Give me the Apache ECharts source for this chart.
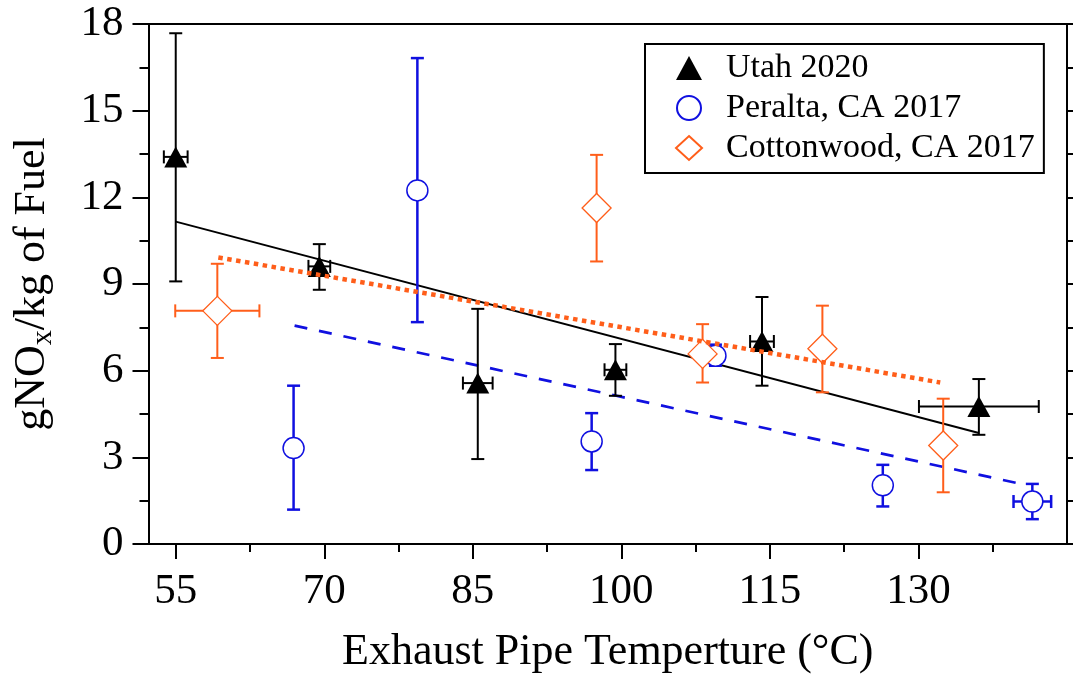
<!DOCTYPE html>
<html><head><meta charset="utf-8">
<script src="https://cdn.jsdelivr.net/npm/echarts@6/dist/echarts.min.js"></script>
<style>html,body{margin:0;padding:0;background:#fff}#c{width:1073px;height:679px}</style>
</head><body><div id="c"></div>
<script>
// ---- data ----
const xTickValues = [55, 70, 85, 100, 115, 130];
const xMinorTickValues = [62.5, 77.5, 92.5, 107.5, 122.5, 137.5];

const utahX    = [55.0, 69.5, 85.5, 99.4, 114.2, 136.1];
const utahY    = [13.4, 9.61, 5.57, 6.03, 7.01, 4.76];
const utahLow  = [9.09, 8.80, 2.94, 5.13, 5.48, 3.78];
const utahHigh = [17.68, 10.38, 8.14, 6.92, 8.55, 5.71];
const utahXErr = [1.2, 1.1, 1.5, 1.1, 1.2, 6.05];

const peraltaX    = [66.9, 79.4, 97.0, 109.5, 126.4, 141.5];
const peraltaY    = [3.32, 12.24, 3.55, 6.52, 2.03, 1.47];
const peraltaLow  = [1.19, 7.68, 2.56, 6.17, 1.30, 0.86];
const peraltaHigh = [5.48, 16.82, 4.53, 6.90, 2.74, 2.08];
const peraltaXErr = [0, 0, 0, 0, 0, 1.9];

const cottonX    = [59.2, 97.5, 108.2, 120.3, 132.5];
const cottonY    = [8.07, 11.63, 6.58, 6.76, 3.41];
const cottonLow  = [6.44, 9.78, 5.59, 5.25, 1.79];
const cottonHigh = [9.70, 13.47, 7.61, 8.25, 5.03];
const cottonXErr = [4.25, 0, 0, 0, 0];

const utahFitX = [55.0, 136.1],    utahFitY = [11.16, 3.84];
const peraltaFitX = [67.0, 140.1], peraltaFitY = [7.56, 2.10];
const cottonFitX = [59.3, 132.2],  cottonFitY = [9.92, 5.59];

// ---- styles ----
const FONT = 'Liberation Serif';
const BLACK = '#000000', BLUE = '#1010e0', ORANGE = '#ff5e1a';

function pairs(xs, ys) { return xs.map((x, i) => [x, ys[i]]); }

function errRender(xs, ys, lo, hi, xe, color, width) {
  return function (params, api) {
    const i = params.dataIndex;
    const c = api.coord([xs[i], ys[i]]);
    const t = api.coord([xs[i], hi[i]]);
    const b = api.coord([xs[i], lo[i]]);
    const cw = 6.5;
    const st = { stroke: color, lineWidth: width };
    const ch = [
      { type: 'line', shape: { x1: c[0], y1: t[1], x2: c[0], y2: b[1] }, style: st },
      { type: 'line', shape: { x1: c[0] - cw, y1: t[1], x2: c[0] + cw, y2: t[1] }, style: st },
      { type: 'line', shape: { x1: c[0] - cw, y1: b[1], x2: c[0] + cw, y2: b[1] }, style: st }
    ];
    if (xe[i] > 0) {
      const l = api.coord([xs[i] - xe[i], ys[i]]);
      const r = api.coord([xs[i] + xe[i], ys[i]]);
      ch.push({ type: 'line', shape: { x1: l[0], y1: c[1], x2: r[0], y2: c[1] }, style: st });
      ch.push({ type: 'line', shape: { x1: l[0], y1: c[1] - cw, x2: l[0], y2: c[1] + cw }, style: st });
      ch.push({ type: 'line', shape: { x1: r[0], y1: c[1] - cw, x2: r[0], y2: c[1] + cw }, style: st });
    }
    return { type: 'group', children: ch };
  };
}

const chart = echarts.init(document.getElementById('c'), null, { renderer: 'canvas' });
const axisLineStyle = { color: BLACK, width: 2 };

chart.setOption({
  animation: false,
  backgroundColor: '#fff',
  grid: { left: 148.5, right: 6, top: 24, bottom: 134.7 },
  legend: {
    data: ['Utah 2020', 'Peralta, CA 2017', 'Cottonwood, CA 2017'],
    orient: 'vertical',
    left: 645, top: 44,
    padding: [7, 9, 8, 30],
    itemGap: 6,
    itemWidth: 26, itemHeight: 24,
    borderColor: BLACK, borderWidth: 2,
    backgroundColor: '#fff',
    textStyle: { fontFamily: FONT, fontSize: 34, color: BLACK, lineHeight: 34, padding: [0, 0, 0, 19] }
  },
  xAxis: [
    {
      type: 'value', position: 'bottom', min: 52.25, max: 145,
      axisLine: { show: true, onZero: false, lineStyle: axisLineStyle },
      axisTick: { show: true, customValues: xTickValues, length: 15, lineStyle: { width: 2, color: BLACK } },
      axisLabel: { customValues: xTickValues, margin: 26, fontFamily: FONT, fontSize: 43, color: BLACK },
      splitLine: { show: false },
      name: 'Exhaust Pipe Temperture (\u00B0C)', nameLocation: 'middle', nameGap: 86,
      nameTextStyle: { fontFamily: FONT, fontSize: 44, color: BLACK }
    },
    {
      type: 'value', position: 'bottom', min: 52.25, max: 145,
      axisLine: { show: false },
      axisTick: { show: true, customValues: xMinorTickValues, length: 8, lineStyle: { width: 2, color: BLACK } },
      axisLabel: { show: false }, splitLine: { show: false }
    },
    {
      type: 'value', position: 'top', min: 52.25, max: 145,
      axisLine: { show: true, onZero: false, lineStyle: axisLineStyle },
      axisTick: { show: false }, axisLabel: { show: false }, splitLine: { show: false }
    }
  ],
  yAxis: [
    {
      type: 'value', position: 'left', min: 0, max: 18, interval: 3,
      axisLine: { show: true, onZero: false, lineStyle: axisLineStyle },
      axisTick: { show: true, length: 16, lineStyle: { width: 2, color: BLACK } },
      minorTick: { show: true, splitNumber: 2, length: 9, lineStyle: { width: 2, color: BLACK } },
      axisLabel: { margin: 25, fontFamily: FONT, fontSize: 43, color: BLACK },
      splitLine: { show: false },
      name: '{m|gNO}{s|x}{m|/kg of Fuel}', nameLocation: 'middle', nameGap: 90, nameRotate: 90,
      nameTextStyle: {
        fontFamily: FONT, fontSize: 44, color: BLACK,
        rich: {
          m: { fontFamily: FONT, fontSize: 44, color: BLACK, lineHeight: 52, verticalAlign: 'middle' },
          s: { fontFamily: FONT, fontSize: 30, color: BLACK, lineHeight: 52, verticalAlign: 'bottom' }
        }
      }
    },
    {
      type: 'value', position: 'right', min: 0, max: 18, interval: 1.5,
      axisLine: { show: true, onZero: false, lineStyle: axisLineStyle },
      axisTick: { show: true, length: 7, lineStyle: { width: 2, color: BLACK } },
      axisLabel: { show: false }, splitLine: { show: false }
    }
  ],
  series: [
    { name: 'utahFit', type: 'line', data: pairs(utahFitX, utahFitY), symbol: 'none',
      lineStyle: { color: BLACK, width: 2 }, z: 2 },
    { name: 'peraltaFit', type: 'line', data: pairs(peraltaFitX, peraltaFitY), symbol: 'none',
      lineStyle: { color: BLUE, width: 2.7, type: [13, 12] }, z: 2 },
    { name: 'utahErr', type: 'custom', data: pairs(utahX, utahY),
      renderItem: errRender(utahX, utahY, utahLow, utahHigh, utahXErr, BLACK, 2), z: 3 },
    { name: 'peraltaErr', type: 'custom', data: pairs(peraltaX, peraltaY),
      renderItem: errRender(peraltaX, peraltaY, peraltaLow, peraltaHigh, peraltaXErr, BLUE, 2.5), z: 3 },
    { name: 'cottonErr', type: 'custom', data: pairs(cottonX, cottonY),
      renderItem: errRender(cottonX, cottonY, cottonLow, cottonHigh, cottonXErr, ORANGE, 2), z: 3 },
    { name: 'Utah 2020', type: 'scatter', data: pairs(utahX, utahY), symbol: 'triangle', symbolSize: [23, 21],
      itemStyle: { color: BLACK, opacity: 1 }, z: 4 },
    { name: 'Peralta, CA 2017', type: 'scatter', data: pairs(peraltaX, peraltaY), symbol: 'circle', symbolSize: 21,
      itemStyle: { color: '#fff', borderColor: BLUE, borderWidth: 1.5, opacity: 1 }, z: 4 },
    { name: 'Cottonwood, CA 2017', type: 'scatter', data: pairs(cottonX, cottonY), symbol: 'diamond', symbolSize: [29, 29],
      itemStyle: { color: '#fff', borderColor: ORANGE, borderWidth: 1.3, opacity: 1 }, z: 4 },
    { name: 'cottonFit', type: 'line', data: pairs(cottonFitX, cottonFitY), symbol: 'none',
      lineStyle: { color: ORANGE, width: 4.5, type: [4.5, 4.5] }, z: 5 }
  ]
});
</script>
</body></html>
